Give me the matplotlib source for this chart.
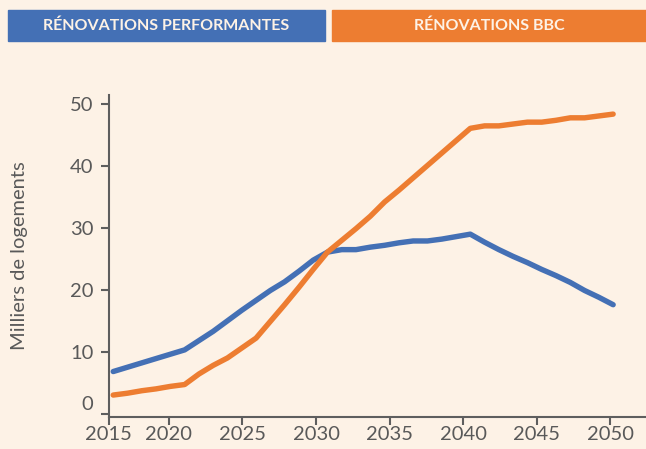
import numpy as np
import matplotlib
matplotlib.use("Agg")
from matplotlib import pyplot as plt
from matplotlib import transforms

# annual values, thousands of dwellings
years = list(range(2015, 2051))
perf = [6.8, 7.5, 8.2, 8.9, 9.6, 10.3, 11.8, 13.3, 15.0, 16.7,
        18.3, 19.9, 21.3, 23.0, 24.8, 26.1, 26.5, 26.5, 26.9, 27.2,
        27.6, 27.9, 27.9, 28.2, 28.6, 29.0, 27.7, 26.5, 25.4, 24.4,
        23.3, 22.3, 21.2, 19.9, 18.8, 17.6]
bbc = [3.0, 3.3, 3.7, 4.0, 4.4, 4.7, 6.4, 7.8, 9.0, 10.6,
       12.2, 14.9, 17.6, 20.4, 23.3, 26.1, 28.0, 29.9, 31.9, 34.2,
       36.1, 38.1, 40.1, 42.1, 44.1, 46.1, 46.5, 46.5, 46.8, 47.1,
       47.1, 47.4, 47.8, 47.8, 48.1, 48.4]
labels = ["RÉNOVATIONS PERFORMANTES", "RÉNOVATIONS BBC"]
xtick_labels = ["2015", "2020", "2025", "2030", "2035", "2040", "2045", "2050"]
yticks = [0, 10, 20, 30, 40, 50]

BG = "#fdf2e6"
BLUE = "#4470b5"
ORANGE = "#ed7d31"
GREY = "#5e5e5e"

plt.rcParams["font.family"] = ["Lato", "DejaVu Sans"]

fig = plt.figure(figsize=(6.46, 4.49), dpi=100, facecolor=BG)
ax = fig.add_axes([0.1684, 0.0719, 0.8316, 0.716])
ax.set_facecolor(BG)

ax.plot(years, perf, color=BLUE, lw=3.9, solid_capstyle="round", solid_joinstyle="round")
ax.plot(years, bbc, color=ORANGE, lw=3.9, solid_capstyle="round", solid_joinstyle="round")

# source axis: ticks spaced ~5.15 data-years, first label sits on the spine
xmin, xmax = 2014.69, 2052.3
ax.set_xlim(xmin, xmax)
ax.set_ylim(-0.5, 51.45)
xt = [xmin] + list(np.linspace(2018.9, 2049.8, 7))
ax.set_xticks(xt, xtick_labels)
ax.set_yticks(yticks, [str(v) for v in yticks])

for s in ["top", "right"]:
    ax.spines[s].set_visible(False)
for s in ["left", "bottom"]:
    ax.spines[s].set_color(GREY)
    ax.spines[s].set_linewidth(1.5)
ax.tick_params(colors=GREY, width=1.5, length=6, labelsize=14.5, pad=5)
ax.tick_params(axis="x", pad=1)
for t in ax.get_xticklabels() + ax.get_yticklabels():
    t.set_color("#595959")

# "0" label is drawn a bit above its tick in the original
lab0 = ax.get_yticklabels()[0]
lab0.set_transform(lab0.get_transform() + transforms.ScaledTranslation(0, 8 / 72, fig.dpi_scale_trans))

ax.set_ylabel("Milliers de logements", fontsize=14.5, color="#595959", labelpad=30)

# legend header boxes
boxes = [(8 / 646, 325 / 646, BLUE), (332 / 646, 1.0, ORANGE)]
for (x0, x1, c), txt in zip(boxes, labels):
    fig.patches.append(plt.Rectangle((x0, 1 - 40.5 / 449), x1 - x0, 30.5 / 449,
                                     transform=fig.transFigure, color=c, zorder=0))
    fig.text((x0 + x1) / 2, 1 - 25.5 / 449, txt, ha="center", va="center",
             color=BG, fontsize=11.5, fontweight="bold")

fig.savefig("out.png", dpi=100, facecolor=BG)
